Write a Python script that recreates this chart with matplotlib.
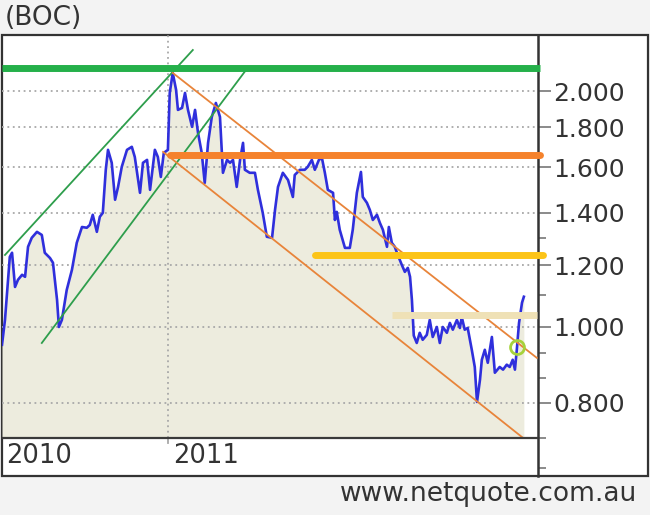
import matplotlib
matplotlib.use('Agg')
import matplotlib.pyplot as plt
from matplotlib.patches import Rectangle
from matplotlib.ticker import FixedLocator, NullFormatter, FixedFormatter

# ---------------- data ----------------
dates = [2010.554, 2010.562, 2010.575, 2010.581, 2010.589, 2010.597, 2010.608, 2010.616,
         2010.624, 2010.634, 2010.648, 2010.661, 2010.669, 2010.683, 2010.691, 2010.702,
         2010.707, 2010.715, 2010.728, 2010.742, 2010.755, 2010.769, 2010.782, 2010.790,
         2010.798, 2010.809, 2010.817, 2010.825, 2010.833, 2010.839, 2010.849, 2010.858,
         2010.866, 2010.876, 2010.890, 2010.903, 2010.911, 2010.925, 2010.933, 2010.944,
         2010.952, 2010.965, 2010.973, 2010.981, 2010.989, 2011.000, 2011.005, 2011.013,
         2011.022, 2011.027, 2011.038, 2011.046, 2011.054, 2011.065, 2011.073, 2011.081,
         2011.091, 2011.099, 2011.108, 2011.118, 2011.129, 2011.140, 2011.148, 2011.159,
         2011.167, 2011.175, 2011.185, 2011.194, 2011.202, 2011.207, 2011.220, 2011.234,
         2011.242, 2011.255, 2011.266, 2011.280, 2011.288, 2011.296, 2011.309, 2011.323,
         2011.336, 2011.341, 2011.355, 2011.368, 2011.376, 2011.387, 2011.395, 2011.406,
         2011.414, 2011.422, 2011.430, 2011.444, 2011.449, 2011.454, 2011.462, 2011.476,
         2011.489, 2011.497, 2011.508, 2011.519, 2011.524, 2011.535, 2011.543, 2011.551,
         2011.562, 2011.570, 2011.578, 2011.589, 2011.594, 2011.602, 2011.610, 2011.618,
         2011.629, 2011.637, 2011.645, 2011.651, 2011.656, 2011.661, 2011.669, 2011.677,
         2011.685, 2011.696, 2011.704, 2011.712, 2011.723, 2011.731, 2011.739, 2011.750,
         2011.758, 2011.766, 2011.777, 2011.785, 2011.790, 2011.798, 2011.806, 2011.817,
         2011.825, 2011.831, 2011.839, 2011.844, 2011.852, 2011.860, 2011.871, 2011.879,
         2011.892, 2011.901, 2011.911, 2011.919, 2011.927, 2011.933, 2011.938, 2011.944,
         2011.952, 2011.957]
prices = [0.949, 1.021, 1.229, 1.244, 1.125, 1.149, 1.166, 1.159,
          1.266, 1.300, 1.323, 1.311, 1.244, 1.225, 1.208, 1.083,
          1.000, 1.021, 1.115, 1.183, 1.281, 1.342, 1.339, 1.350,
          1.391, 1.323, 1.383, 1.399, 1.588, 1.684, 1.621, 1.454,
          1.510, 1.602, 1.684, 1.699, 1.649, 1.484, 1.621, 1.635,
          1.497, 1.684, 1.649, 1.555, 1.669, 1.684, 1.991, 2.112,
          2.009, 1.894, 1.905, 1.991, 1.894, 1.802, 1.894, 1.770,
          1.669, 1.528, 1.719, 1.855, 1.933, 1.855, 1.574, 1.635,
          1.621, 1.635, 1.510, 1.635, 1.719, 1.588, 1.574, 1.574,
          1.497, 1.399, 1.304, 1.300, 1.411, 1.510, 1.574, 1.541,
          1.466, 1.564, 1.588, 1.588, 1.602, 1.635, 1.588, 1.635,
          1.645, 1.574, 1.497, 1.484, 1.370, 1.403, 1.331, 1.262,
          1.262, 1.331, 1.484, 1.578, 1.466, 1.441, 1.411, 1.370,
          1.391, 1.358, 1.331, 1.266, 1.342, 1.281, 1.266, 1.236,
          1.200, 1.176, 1.190, 1.159, 1.083, 0.975, 0.954, 0.983,
          0.963, 0.977, 1.021, 0.971, 1.000, 0.954, 1.000, 0.983,
          1.012, 0.992, 1.021, 0.997, 1.030, 0.992, 0.997, 0.935,
          0.889, 0.802, 0.856, 0.908, 0.935, 0.900, 0.971, 0.874,
          0.889, 0.882, 0.895, 0.889, 0.908, 0.882, 0.935, 1.012,
          1.074, 1.093]

# horizontal support / resistance levels
level_values = [2.143, 1.659, 1.236, 1.036]
level_starts = [2010.554, 2011.005, 2011.395, 2011.602]
level_ends = [2012.000, 2012.000, 2012.008, 2011.992]

# channel trend lines (start, end)
green_upper_t = [2010.562, 2011.067]
green_upper_p = [1.236, 2.259]
green_lower_t = [2010.661, 2011.210]
green_lower_p = [0.954, 2.130]
orange_upper_t = [2011.013, 2011.992]
orange_upper_p = [2.112, 0.913]
orange_lower_t = [2010.987, 2011.954]
orange_lower_p = [1.674, 0.722]

marker_t = [2011.938]
marker_p = [0.943]

y_major = [0.8, 1.0, 1.2, 1.4, 1.6, 1.8, 2.0]
y_major_labels = ['0.800', '1.000', '1.200', '1.400', '1.600', '1.800', '2.000']
y_minor = [0.66, 0.722, 0.86, 0.925, 1.1, 1.3]
year_ticks = [2011.0]
year_labels = ['2010', '2011']
year_label_pos = [2010.565, 2011.013]

# ---------------- layout ----------------
W, H = 650, 515
XL, XR = 2010.554, 2011.995
YB, YT = 0.645, 2.361
PLOT_BOTTOM = 0.722

fig = plt.figure(figsize=(6.5, 5.15), dpi=100, facecolor='#f3f3f3')
fig.patches.append(Rectangle((2 / W, 1 - 476 / H), 646 / W, 441 / H,
                             transform=fig.transFigure, facecolor='white',
                             edgecolor='#333333', lw=1.6, zorder=-5))

ax = fig.add_axes([2 / W, 1 - 476 / H, 536 / W, 441 / H])
ax.set_zorder(2)
ax.patch.set_visible(False)
ax.set_yscale('log')
ax.set_xlim(XL, XR)
ax.set_ylim(YB, YT)

for s in ['top', 'bottom', 'left']:
    ax.spines[s].set_visible(False)
ax.spines['right'].set_color('#333333')
ax.spines['right'].set_linewidth(1.8)

# fill under price
ax.fill_between(dates, prices, PLOT_BOTTOM, color='#edecde', lw=0, zorder=1)

# grid
for v in y_major:
    ax.plot([XL, XR], [v, v], ls=(0, (1, 2)), color='#a8a8a8', lw=1.3, zorder=2)
for t in year_ticks:
    ax.plot([t, t], [PLOT_BOTTOM, YT], ls=(0, (1, 2)), color='#a8a8a8', lw=1.3, zorder=2)
    ax.plot([t, t], [0.711, PLOT_BOTTOM], color='#a8a8a8', lw=1.3, zorder=2)

# bottom separator line of plot
ax.plot([XL, XR], [PLOT_BOTTOM, PLOT_BOTTOM], color='#3a3a3a', lw=1.6, zorder=6)

# price line
ax.plot(dates, prices, color='#2f2fdc', lw=1.9, zorder=3)

# channels
ax.plot(green_upper_t, green_upper_p, color='#2e9e4c', lw=1.3, zorder=4)
ax.plot(green_lower_t, green_lower_p, color='#2e9e4c', lw=1.3, zorder=4)
ax.plot(orange_upper_t, orange_upper_p, color='#e8843a', lw=1.3, zorder=4)
ax.plot(orange_lower_t, orange_lower_p, color='#e8843a', lw=1.3, zorder=4)

# levels
level_colors = ['#25b04a', '#f5822c', '#fcc418', '#efe1b6']
level_caps = ['butt', 'round', 'round', 'butt']
for v, a, b, c, cap in zip(level_values, level_starts, level_ends, level_colors, level_caps):
    ax.plot([a, b], [v, v], color=c, lw=5, solid_capstyle=cap, zorder=5, clip_on=False)

ax.plot(marker_t, marker_p, 'o', ms=10, mfc='none', mec='#a6d23c', mew=2, zorder=7)

# axes ticks
ax.set_xticks([])
ax.yaxis.tick_right()
ax.yaxis.set_major_locator(FixedLocator(y_major))
ax.yaxis.set_major_formatter(FixedFormatter(y_major_labels))
ax.yaxis.set_minor_locator(FixedLocator(y_minor))
ax.yaxis.set_minor_formatter(NullFormatter())
ax.tick_params(axis='y', which='major', length=9, width=1.2, color='#777777',
               labelsize=18, labelcolor='#333333', pad=2)
ax.tick_params(axis='y', which='minor', length=6, width=1.2, color='#777777')

for lbl, pos in zip(year_labels, year_label_pos):
    ax.text(pos, 0.6846, lbl, ha='left', va='center', fontsize=18.5, color='#333333')

fig.text(5 / W, 1 - 18 / H, '(BOC)', ha='left', va='center', fontsize=19, color='#333333')
fig.text(637 / W, 1 - 494 / H, 'www.netquote.com.au', ha='right', va='center',
         fontsize=19, color='#333333')

fig.savefig('out.png', dpi=100, facecolor=fig.get_facecolor())
